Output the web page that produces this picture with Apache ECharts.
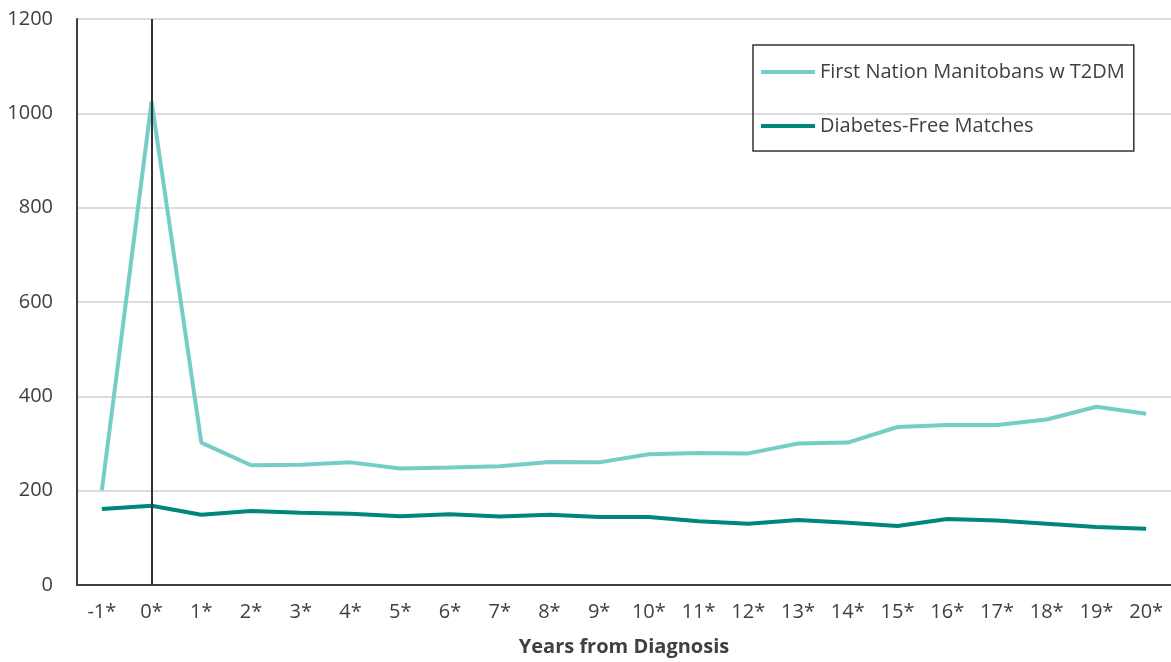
<!DOCTYPE html>
<html>
<head>
<meta charset="utf-8">
<script src="https://cdn.jsdelivr.net/npm/echarts@6/dist/echarts.min.js"></script>
<style>
html,body{margin:0;padding:0;background:#fff;}
#chart{width:1171px;height:662px;}
</style>
</head>
<body>
<div id="chart"></div>
<script>
var categories = ['-1*','0*','1*','2*','3*','4*','5*','6*','7*','8*','9*','10*','11*','12*','13*','14*','15*','16*','17*','18*','19*','20*'];
var firstNation = [201, 1025, 302, 254, 255, 260, 247, 249, 252, 261, 260, 277, 280, 279, 300, 302, 335, 339, 339, 351, 378, 363];
var diabetesFree = [161, 168, 149, 157, 153, 151, 146, 150, 145, 149, 144, 144, 135, 130, 138, 132, 125, 140, 137, 130, 123, 119];
var yTicks = [0, 200, 400, 600, 800, 1000, 1200];
var seriesNames = ['First Nation Manitobans w T2DM', 'Diabetes-Free Matches'];
var markCategory = '0*';

var chart = echarts.init(document.getElementById('chart'));
var font = '"Open Sans", "Noto Sans", sans-serif';
chart.setOption({
  animation: false,
  backgroundColor: '#ffffff',
  grid: {left: 77, top: 19, right: -3, bottom: 75, containLabel: false},
  legend: {
    orient: 'vertical',
    left: 753, top: 45,
    padding: [15, 9, 13, 8],
    itemGap: 30,
    itemWidth: 54, itemHeight: 4,
    icon: 'rect',
    borderColor: '#333333', borderWidth: 1.5,
    textStyle: {fontFamily: font, fontSize: 20, color: '#404040', lineHeight: 24},
    data: seriesNames
  },
  xAxis: {
    type: 'category',
    data: categories,
    boundaryGap: true,
    name: 'Years from Diagnosis',
    nameLocation: 'middle',
    nameGap: 52,
    nameTextStyle: {fontFamily: font, fontSize: 20, fontWeight: 'bold', color: '#404040'},
    axisLine: {lineStyle: {color: '#404040', width: 2}},
    axisTick: {alignWithLabel: true, length: 6, lineStyle: {color: '#404040', width: 2}},
    axisLabel: {fontFamily: font, fontSize: 20, color: '#404040', margin: 17, interval: 0},
    splitLine: {show: false}
  },
  yAxis: {
    type: 'value',
    min: yTicks[0], max: yTicks[yTicks.length - 1], interval: 200,
    axisLine: {show: true, lineStyle: {color: '#404040', width: 2}},
    axisTick: {show: false},
    axisLabel: {fontFamily: font, fontSize: 20, color: '#404040', margin: 24, formatter: function (v) { return String(v); }},
    splitLine: {lineStyle: {color: '#d0d0d0', width: 1.5}}
  },
  series: [
    {
      name: seriesNames[0], type: 'line', data: firstNation,
      symbol: 'none', color: '#76cdc7',
      lineStyle: {width: 4, color: '#76cdc7'},
      z: 3,
      markLine: {
        silent: true, symbol: ['none', 'none'],
        label: {show: false},
        lineStyle: {color: '#333333', width: 2, type: 'solid'},
        data: [{xAxis: markCategory}]
      }
    },
    {
      name: seriesNames[1], type: 'line', data: diabetesFree,
      symbol: 'none', color: '#00877b',
      lineStyle: {width: 4, color: '#00877b'},
      z: 3
    }
  ]
});
</script>
</body>
</html>
